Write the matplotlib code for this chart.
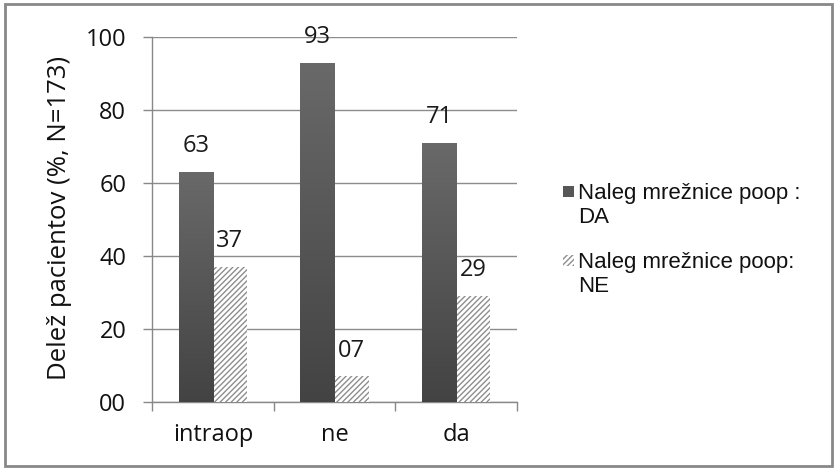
import matplotlib.pyplot as plt
import matplotlib.patches as mpatches
from matplotlib.colors import LinearSegmentedColormap
from matplotlib.ticker import FuncFormatter
import numpy as np

categories = ["intraop", "ne", "da"]
naleg_da = [63, 93, 71]
naleg_ne = [37, 7, 29]
series_labels = ["Naleg mrežnice poop :\nDA", "Naleg mrežnice poop:\nNE"]
y_label = "Delež pacientov (%, N=173)"

plt.rcParams['font.family'] = ['Open Sans', 'DejaVu Sans']
plt.rcParams['hatch.linewidth'] = 1.0

fig = plt.figure(figsize=(8.36, 4.70), dpi=100)
ax = fig.add_axes([152 / 836, 1 - 402 / 470, (517 - 152) / 836, (402 - 37) / 470])

x = np.arange(len(categories))
w = 0.28

dark = ax.bar(x - w / 2, naleg_da, w, color='#575757', linewidth=0, zorder=3)
light = ax.bar(x + w / 2, naleg_ne, w, color='white', edgecolor='#8e8e8e',
               hatch='//////', linewidth=0, zorder=3)

# vertical gradient on the dark bars
grad = np.linspace(0, 1, 256).reshape(-1, 1)
cmap = LinearSegmentedColormap.from_list('g', ['#434343', '#696969'])
for b in dark:
    bx, by = b.get_x(), b.get_y()
    bw, bh = b.get_width(), b.get_height()
    im = ax.imshow(grad, cmap=cmap, extent=[bx, bx + bw, by, by + bh],
                   origin='lower', aspect='auto', zorder=4)
    im.set_clip_path(b)

for bars in (dark, light):
    for b in bars:
        ax.annotate(f"{int(round(b.get_height())):02d}",
                    (b.get_x() + b.get_width() / 2, b.get_height()),
                    xytext=(0, 10), textcoords='offset points',
                    ha='center', va='bottom', fontsize=17, color='#1a1a1a')

ax.set_xlim(-0.5, 2.5)
ax.set_ylim(0, 100)
ax.set_yticks(range(0, 101, 20))
ax.yaxis.set_major_formatter(FuncFormatter(lambda v, p: f"{int(v):02d}"))
ax.set_xticks(x)
ax.set_xticklabels(categories)
ax.set_xticks([-0.5, 0.5, 1.5, 2.5], minor=True)
ax.tick_params(axis='x', which='major', length=0, labelsize=17, pad=15, labelcolor='#111111')
ax.tick_params(axis='x', which='minor', length=6.5, color='#888888', width=1)
ax.tick_params(axis='y', length=6.5, color='#888888', width=1, labelsize=17,
               pad=12, labelcolor='#111111')
ax.yaxis.grid(True, color='#8c8c8c', linewidth=1, zorder=0)
ax.set_axisbelow(True)
for s in ['top', 'right']:
    ax.spines[s].set_visible(False)
for s in ['left', 'bottom']:
    ax.spines[s].set_color('#888888')
    ax.spines[s].set_linewidth(1)
ax.set_ylabel(y_label, fontsize=18.5, color='#111111')
ax.yaxis.set_label_coords((72 - 152) / 365, 0.503)

# legend drawn by hand to mimic the Excel layout
leg_base = [199, 268]
styles = [dict(facecolor='#575757', edgecolor='none'),
          dict(facecolor='white', edgecolor='#8e8e8e', hatch='//////', linewidth=0)]
for yb, lab, st in zip(leg_base, series_labels, styles):
    fig.patches.append(mpatches.Rectangle((563 / 836, 1 - (yb - 2) / 470), 11 / 836, 11 / 470,
                                          transform=fig.transFigure, **st))
    for i, line in enumerate(lab.split("\n")):
        fig.text(578 / 836, 1 - (yb + 24 * i) / 470, line, fontsize=16,
                 va='baseline', ha='left', family=['Liberation Sans', 'DejaVu Sans'],
                 color='#111111')

fig.patches.append(mpatches.Rectangle((5 / 836, 4 / 470), 827 / 836, 462 / 470,
                                      transform=fig.transFigure, fill=False,
                                      edgecolor='#888888', linewidth=2))

fig.savefig('out.png', dpi=100)
